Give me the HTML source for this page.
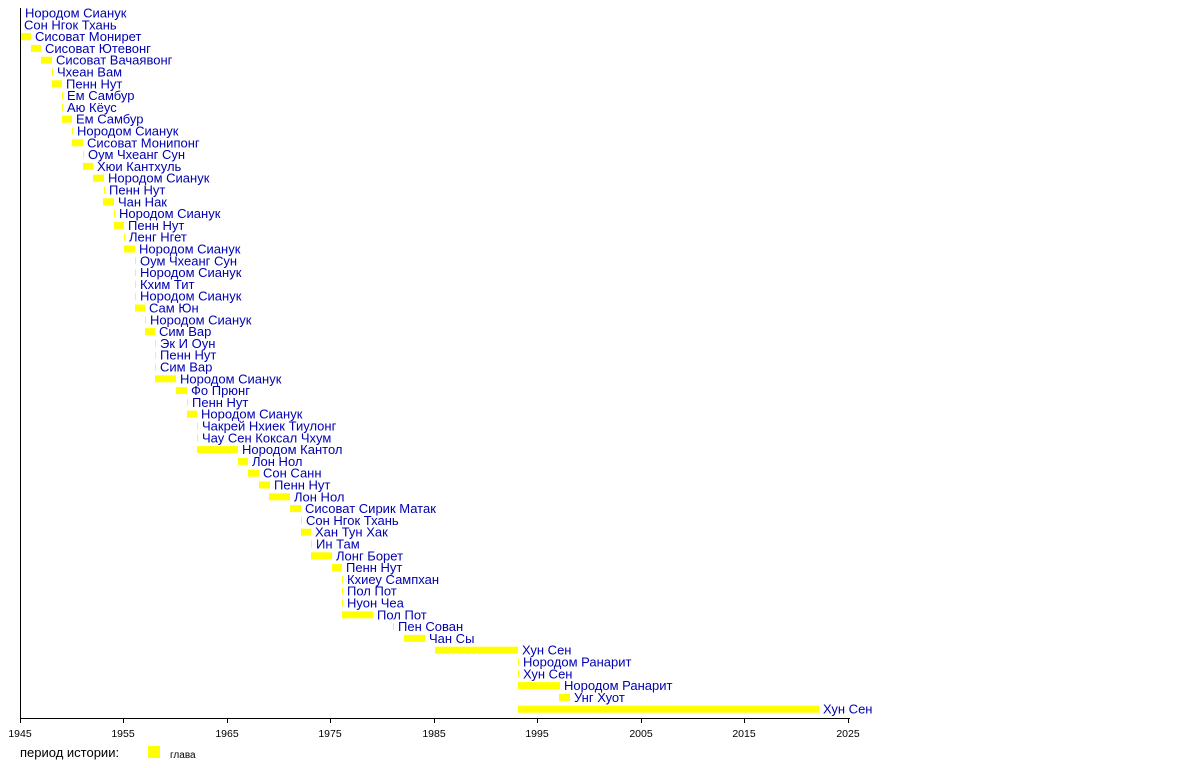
<!DOCTYPE html>
<html><head><meta charset="utf-8"><style>
html,body{margin:0;padding:0;background:#fff;}
svg{display:block;font-family:"Liberation Sans",sans-serif;}
.l{fill:#0000b0;font-size:13px;}
.t{fill:#000;font-size:10.5px;text-anchor:middle;}
</style></head><body>
<svg width="1200" height="768" viewBox="0 0 1200 768" xmlns="http://www.w3.org/2000/svg">
<g id="bars" fill="#ffff00"></g>
<g id="labels"></g>
<line x1="20.5" y1="8" x2="20.5" y2="718" stroke="#000" stroke-width="1"/>
<line x1="20" y1="718.5" x2="850" y2="718.5" stroke="#000" stroke-width="1"/>
<g stroke="#000" stroke-width="1">
<line x1="20.5" y1="718" x2="20.5" y2="723"/><line x1="123.5" y1="718" x2="123.5" y2="723"/><line x1="227.5" y1="718" x2="227.5" y2="723"/><line x1="330.5" y1="718" x2="330.5" y2="723"/><line x1="434.5" y1="718" x2="434.5" y2="723"/><line x1="537.5" y1="718" x2="537.5" y2="723"/><line x1="641.5" y1="718" x2="641.5" y2="723"/><line x1="744.5" y1="718" x2="744.5" y2="723"/><line x1="848.5" y1="718" x2="848.5" y2="723"/>
</g>
<text class="t" x="20" y="737">1945</text><text class="t" x="123" y="737">1955</text><text class="t" x="227" y="737">1965</text><text class="t" x="330" y="737">1975</text><text class="t" x="434" y="737">1985</text><text class="t" x="537" y="737">1995</text><text class="t" x="641" y="737">2005</text><text class="t" x="744" y="737">2015</text><text class="t" x="848" y="737">2025</text>
<text x="20" y="757" style="font-size:13px">период истории:</text>
<rect x="148" y="746" width="12" height="12" fill="#ffff00"/>
<text x="170" y="758" style="font-size:10px">глава</text>
<script>
var d=[
[20,21,"Нородом Сианук"],[20,20,"Сон Нгок Тхань"],[21,31,"Сисоват Монирет"],[31,41,"Сисоват Ютевонг"],[41,52,"Сисоват Вачаявонг"],[52,53,"Чхеан Вам"],[52,62,"Пенн Нут"],[62,63,"Ем Самбур"],[62,63,"Аю Кёус"],[62,72,"Ем Самбур"],[72,73,"Нородом Сианук"],[72,83,"Сисоват Монипонг"],[83,84,"Оум Чхеанг Сун"],[83,93,"Хюи Кантхуль"],[93,104,"Нородом Сианук"],[104,105,"Пенн Нут"],[103,114,"Чан Нак"],[114,115,"Нородом Сианук"],[114,124,"Пенн Нут"],[124,125,"Ленг Нгет"],[124,135,"Нородом Сианук"],[135,136,"Оум Чхеанг Сун"],[135,136,"Нородом Сианук"],[135,136,"Кхим Тит"],[135,136,"Нородом Сианук"],[135,145,"Сам Юн"],[145,146,"Нородом Сианук"],[145,155,"Сим Вар"],[155,156,"Эк И Оун"],[155,156,"Пенн Нут"],[155,156,"Сим Вар"],[155,176,"Нородом Сианук"],[176,187,"Фо Прюнг"],[187,188,"Пенн Нут"],[187,197,"Нородом Сианук"],[197,198,"Чакрей Нхиек Тиулонг"],[197,198,"Чау Сен Коксал Чхум"],[197,238,"Нородом Кантол"],[238,248,"Лон Нол"],[248,259,"Сон Санн"],[259,270,"Пенн Нут"],[269,290,"Лон Нол"],[290,301,"Сисоват Сирик Матак"],[301,302,"Сон Нгок Тхань"],[301,311,"Хан Тун Хак"],[311,312,"Ин Там"],[311,332,"Лонг Борет"],[332,342,"Пенн Нут"],[342,343,"Кхиеу Сампхан"],[342,343,"Пол Пот"],[342,343,"Нуон Чеа"],[342,373,"Пол Пот"],[393,394,"Пен Сован"],[404,425,"Чан Сы"],[435,518,"Хун Сен"],[518,519,"Нородом Ранарит"],[518,519,"Хун Сен"],[518,560,"Нородом Ранарит"],[559,570,"Унг Хуот"],[518,819,"Хун Сен"]];
var b=document.getElementById("bars"),l=document.getElementById("labels"),ns="http://www.w3.org/2000/svg";
d.forEach(function(r,i){var y=13+i*11.8;
var e=document.createElementNS(ns,"rect");e.setAttribute("x",r[0]);e.setAttribute("y",y-3.5);e.setAttribute("width",Math.max(1,r[1]-r[0]));e.setAttribute("height",7);b.appendChild(e);
var t=document.createElementNS(ns,"text");t.setAttribute("class","l");t.setAttribute("x",r[1]+4);t.setAttribute("y",y+4.5);t.textContent=r[2];l.appendChild(t);});
</script>
</svg>
</body></html>
